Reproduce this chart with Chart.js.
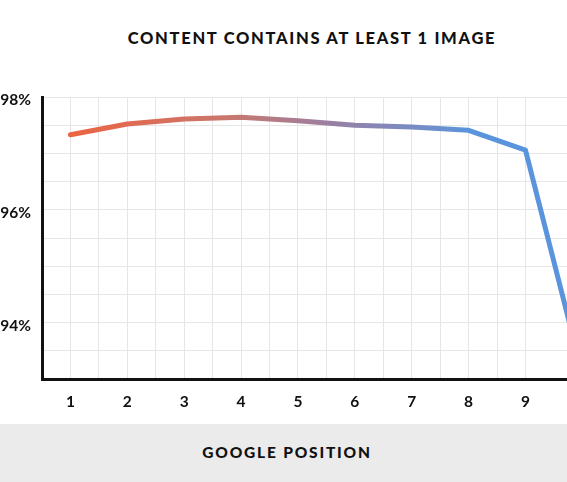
<!DOCTYPE html>
<html>
<head>
<meta charset="utf-8">
<script src="https://cdn.jsdelivr.net/npm/chart.js@4"></script>
<style>
  html, body { margin: 0; padding: 0; background: #fff; }
  body { width: 567px; height: 482px; position: relative; overflow: hidden; font-family: Lato, "DejaVu Sans", sans-serif; }
  #title { position: absolute; left: 0; width: 624px; top: 28px; text-align: center; font-size: 16.5px; font-weight: 900; letter-spacing: 1.7px; color: #111; }
  #band { position: absolute; left: 0; top: 424px; width: 567px; height: 58px; background: #ebebeb; }
  #xtitle { position: absolute; left: 0; width: 574px; top: 443px; text-align: center; font-size: 15.5px; font-weight: 900; letter-spacing: 1.8px; color: #111; }
  #wrap { position: absolute; left: 0; top: 0; width: 567px; height: 424px; }
</style>
</head>
<body>
<div id="title">CONTENT CONTAINS AT LEAST 1 IMAGE</div>
<div id="wrap"><canvas id="c"></canvas></div>
<div id="band"></div>
<div id="xtitle">GOOGLE POSITION</div>
<script>
const positions = [1, 2, 3, 4, 5, 6, 7, 8, 9, 10];
const percentWithImage = [97.33, 97.52, 97.61, 97.64, 97.58, 97.50, 97.47, 97.41, 97.06, 93.10];
const yLabelValues = [94, 96, 98];

const ctxEl = document.getElementById('c');
function lineGradient(context) {
  const chart = context.chart;
  const area = chart.chartArea;
  if (!area) return '#ec6443';
  const xs = chart.scales.x;
  const g = chart.ctx.createLinearGradient(xs.getPixelForValue(1), 0, xs.getPixelForValue(8), 0);
  g.addColorStop(0, '#ec6443');
  g.addColorStop(0.4, '#c9776f');
  g.addColorStop(0.65, '#9a80a2');
  g.addColorStop(0.85, '#7a8bc2');
  g.addColorStop(1, '#5a94dc');
  return g;
}

new Chart(ctxEl, {
  type: 'line',
  data: {
    datasets: [{
      data: positions.map((p, i) => ({ x: p, y: percentWithImage[i] })),
      borderColor: lineGradient,
      borderWidth: 5,
      pointRadius: 0,
      tension: 0,
      borderCapStyle: 'round',
      borderJoinStyle: 'round',
      fill: false
    }]
  },
  options: {
    responsive: true,
    maintainAspectRatio: false,
    animation: false,
    events: [],
    layout: { padding: { top: 97, right: 0, left: 0, bottom: 0 } },
    plugins: { legend: { display: false }, tooltip: { enabled: false }, title: { display: false } },
    scales: {
      x: {
        type: 'linear',
        min: 0.5,
        max: 9.73,
        afterBuildTicks: (s) => { s.ticks = s.ticks.filter(t => Math.abs(t.value * 2 - Math.round(t.value * 2)) < 1e-6); },
        afterFit: (s) => { s.height = 45; },
        grid: { color: '#e6e6e6', lineWidth: 1, drawTicks: false },
        border: { color: '#111', width: 3 },
        ticks: {
          stepSize: 0.5,
          autoSkip: false,
          maxRotation: 0,
          padding: 14,
          color: '#111',
          font: { family: 'Lato', size: 15.5, weight: 'bold' },
          callback: (v) => Number.isInteger(v) && positions.includes(v) ? String(v) : ''
        }
      },
      y: {
        type: 'linear',
        min: 93,
        max: 98,
        afterFit: (s) => { s.width = 42; },
        grid: { color: '#e6e6e6', lineWidth: 1, drawTicks: false },
        border: { color: '#111', width: 3 },
        ticks: {
          stepSize: 0.5,
          autoSkip: false,
          padding: 11,
          labelOffset: 3,
          color: '#111',
          font: { family: 'Lato', size: 15.5, weight: 'bold' },
          callback: (v) => yLabelValues.includes(v) ? v + '%' : ''
        }
      }
    }
  }
});
</script>
</body>
</html>
